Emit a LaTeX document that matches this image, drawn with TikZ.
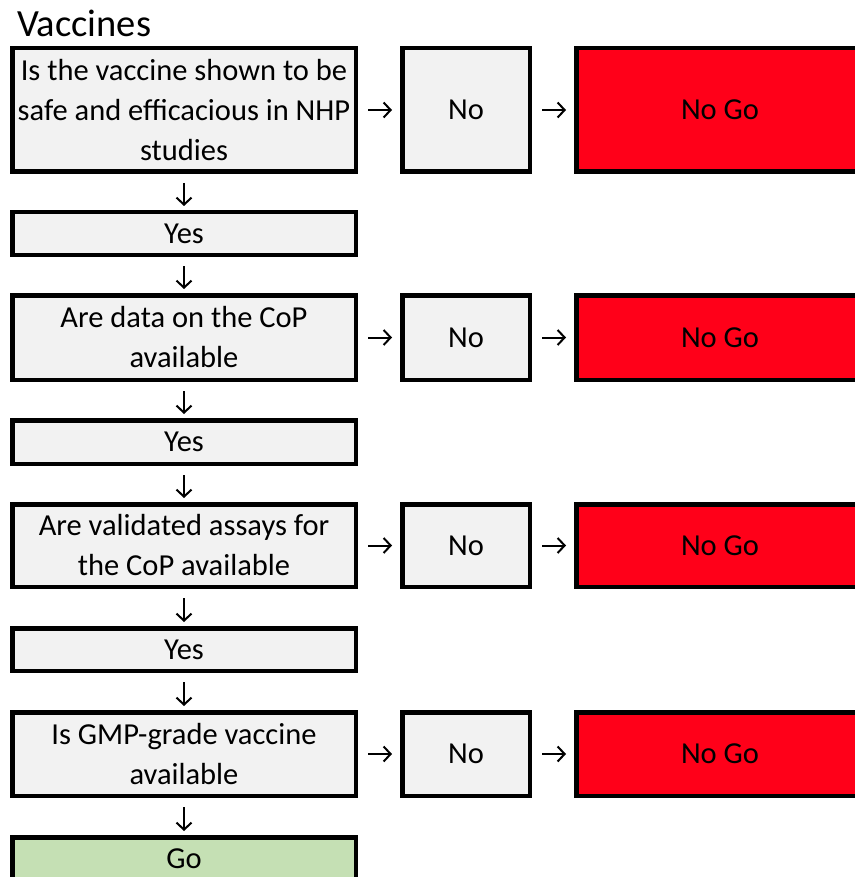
\documentclass[tikz,border=0pt]{standalone}
\usepackage{fontspec}
\setmainfont{Carlito}
\usetikzlibrary{arrows.meta}
\definecolor{boxgray}{HTML}{F2F2F2}
\definecolor{nogored}{HTML}{FF0019}
\definecolor{gogreen}{HTML}{C5E0B4}

\begin{document}
\begin{tikzpicture}[x=1pt,y=-1pt,
  box/.style={draw=black, line width=4.5pt, fill=boxgray, inner sep=0pt, align=center,
    minimum width=343.5pt, font=\fontsize{30.5}{40}\selectfont},
  nobox/.style={box, minimum width=127.5pt},
  nogobox/.style={box, fill=nogored, minimum width=287.5pt},
  gobox/.style={box, fill=gogreen},
  arr/.style={line width=2pt, -{Straight Barb[length=7pt,width=15pt,line width=2pt]}},
  harr/.style={arr, shorten <=10pt, shorten >=8pt},
  varr/.style={arr, shorten <=9pt, shorten >=4pt}]
\useasboundingbox (0,0) rectangle (854,877);
\node[anchor=base west, inner sep=0pt, font=\fontsize{38.5}{44}\selectfont] (title) at (17,37) {Vaccines};
% questions
\node[box, minimum height=123.5pt] (q1) at (184,110) {Is the vaccine shown to be\\safe and efficacious in NHP\\studies};
\node[box, minimum height=42.5pt] (y1) at (184,233.5) {Yes};
\node[box, minimum height=84.5pt] (q2) at (184,337.5) {Are data on the CoP\\available};
\node[box, minimum height=43.5pt] (y2) at (184,442) {Yes};
\node[box, minimum height=82.5pt] (q3) at (184,545.5) {Are validated assays for\\the CoP available};
\node[box, minimum height=42.5pt] (y3) at (184,649.5) {Yes};
\node[box, minimum height=83.5pt] (q4) at (184,754) {Is GMP-grade vaccine\\available};
\node[gobox, minimum height=42.5pt] (go) at (184,858.5) {Go};
% no answers
\node[nobox, minimum height=123.5pt] (n1) at (466,110) {No};
\node[nobox, minimum height=84.5pt] (n2) at (466,337.5) {No};
\node[nobox, minimum height=82.5pt] (n3) at (466,545.5) {No};
\node[nobox, minimum height=83.5pt] (n4) at (466,754) {No};
\node[nogobox, minimum height=123.5pt] (r1) at (720,110) {No Go};
\node[nogobox, minimum height=84.5pt] (r2) at (720,337.5) {No Go};
\node[nogobox, minimum height=82.5pt] (r3) at (720,545.5) {No Go};
\node[nogobox, minimum height=83.5pt] (r4) at (720,754) {No Go};
% arrows
\draw[varr] (q1) -- (y1);
\draw[varr] (y1) -- (q2);
\draw[varr] (q2) -- (y2);
\draw[varr] (y2) -- (q3);
\draw[varr] (q3) -- (y3);
\draw[varr] (y3) -- (q4);
\draw[varr] (q4) -- (go);
\foreach \i in {1,...,4}{
  \draw[harr] (q\i) -- (n\i);
  \draw[harr] (n\i) -- (r\i);
}
\end{tikzpicture}
\end{document}
